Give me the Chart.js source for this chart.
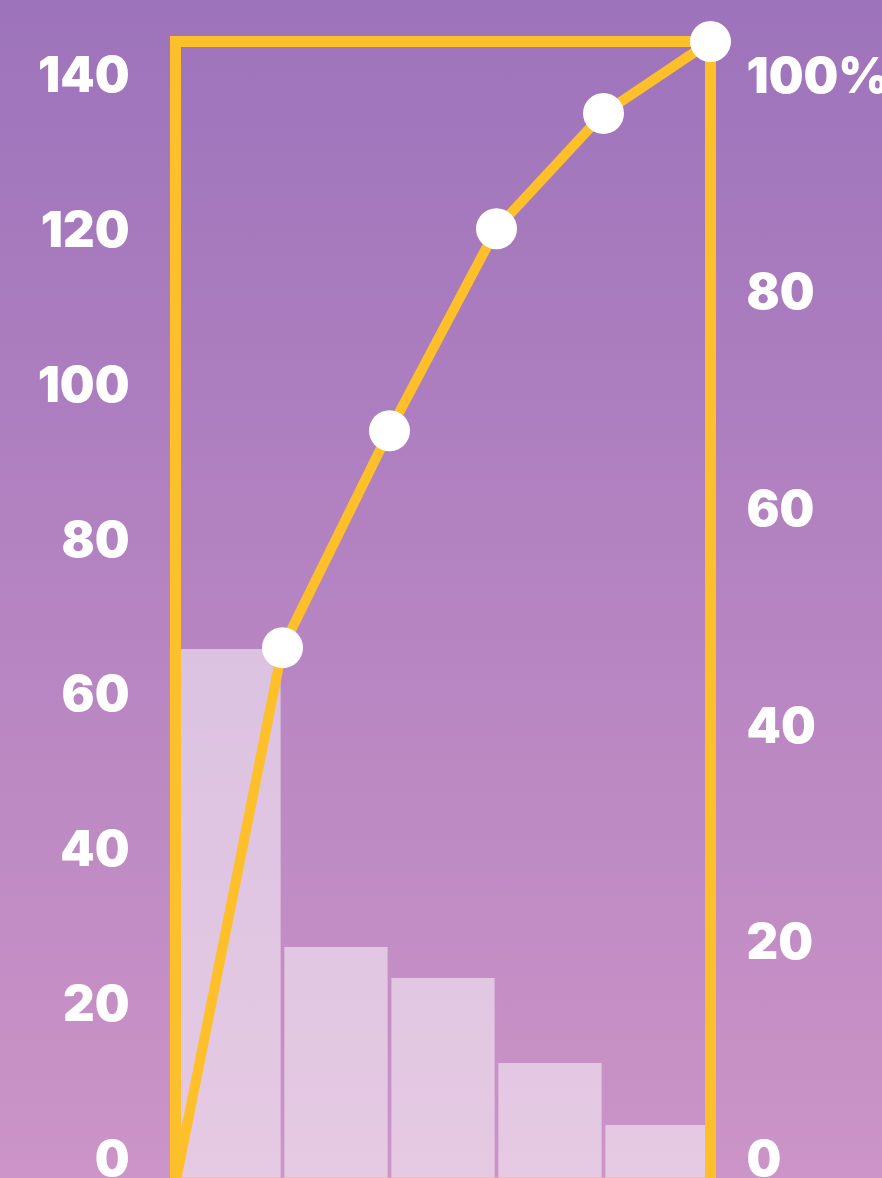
<!DOCTYPE html>
<html>
<head>
<meta charset="utf-8">
<script src="https://cdn.jsdelivr.net/npm/chart.js@4.4.1/dist/chart.umd.min.js"></script>
<style>
  html, body { margin: 0; padding: 0; overflow: hidden; }
  body {
    width: 882px; height: 1178px;
    background: linear-gradient(to bottom, #9d73bb 0%, #cc94c7 100%);
  }
  canvas { display: block; }
</style>
</head>
<body>
<canvas id="pareto" width="882" height="1183"></canvas>
<script>
// data
const categories = ['1', '2', '3', '4', '5'];
const counts = [69, 30.5, 26.5, 15.5, 7.5];
const cumulativeSteps = [0, 1, 2, 3, 4, 5];
const cumulativePct = [0, 46.9, 65.9, 83.6, 93.7, 100];
const countAxisMax = 147.5;
const pctAxisMax = 105.4;

const orange = '#fdbf2a';
const labelFont = { family: 'Inter, Lato, sans-serif', size: 49, weight: '900' };

// draws the orange frame after the bars, below the line
const framePlugin = {
  id: 'frame',
  afterDatasetDraw(chart, args) {
    if (args.meta.type !== 'bar') return;
    const { ctx, chartArea: a } = chart;
    ctx.save();
    ctx.strokeStyle = orange;
    ctx.lineWidth = 11;
    ctx.strokeRect(a.left, a.top, a.right - a.left, a.bottom - a.top);
    ctx.restore();
  }
};

function fitSide(w) {
  return scale => {
    scale.width = w;
    scale.paddingTop = 0;
    scale.paddingBottom = 0;
  };
}

const ctx = document.getElementById('pareto').getContext('2d');
new Chart(ctx, {
  data: {
    labels: categories,
    datasets: [{
      type: 'line',
      data: cumulativeSteps.map((x, i) => ({ x: x, y: cumulativePct[i] })),
      xAxisID: 'xLine',
      yAxisID: 'yPct',
      borderColor: orange,
      borderWidth: 10,
      tension: 0,
      pointRadius: cumulativePct.map((v, i) => i === 0 ? 0 : 20.5),
      pointBackgroundColor: '#ffffff',
      pointBorderWidth: 0,
      clip: false,
      order: 0
    }, {
      type: 'bar',
      data: counts,
      xAxisID: 'x',
      yAxisID: 'y',
      grouped: false,
      backgroundColor: 'rgba(255,255,255,0.5)',
      categoryPercentage: 1,
      barPercentage: 0.965,
      order: 1
    }]
  },
  options: {
    responsive: false,
    animation: false,
    layout: { autoPadding: false, padding: { top: 41.5, left: 0, right: 0, bottom: 0 } },
    plugins: { legend: { display: false }, tooltip: { enabled: false } },
    scales: {
      x: { type: 'category', display: false, offset: true },
      xLine: { type: 'linear', display: false, min: 0, max: 5 },
      yPct: { type: 'linear', display: false, min: 0, max: 100 },
      y: {
        position: 'left',
        min: 0,
        max: countAxisMax,
        grid: { display: false, drawTicks: false },
        border: { display: false },
        ticks: {
          stepSize: 20,
          includeBounds: false,
          color: '#ffffff',
          font: labelFont,
          padding: 46,
          labelOffset: -22
        },
        afterFit: fitSide(175.5)
      },
      y1: {
        position: 'right',
        min: 0,
        max: pctAxisMax,
        grid: { display: false, drawTicks: false },
        border: { display: false },
        ticks: {
          stepSize: 20,
          includeBounds: false,
          color: '#ffffff',
          font: labelFont,
          padding: 36,
          labelOffset: -22,
          callback: v => v === 100 ? '100%' : v
        },
        afterFit: fitSide(171.5)
      }
    }
  },
  plugins: [framePlugin]
});
</script>
</body>
</html>
